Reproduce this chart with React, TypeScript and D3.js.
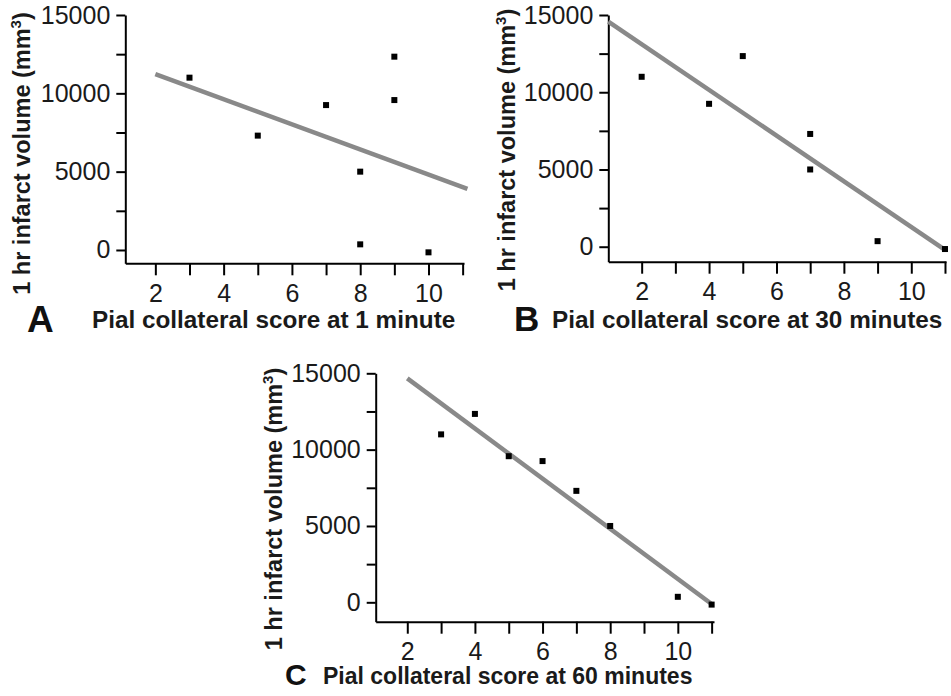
import * as d3 from "d3";
import React, { useEffect, useRef } from "react";

// scores (x) and 1 hr infarct volume (y)
const scoresA = [3, 5, 7, 8, 8, 9, 9, 10];
const volumesA = [11000, 7300, 9250, 5000, 360, 12340, 9570, -150];
const scoresB = [2, 4, 5, 7, 7, 9, 11];
const volumesB = [11000, 9250, 12340, 7300, 5000, 360, -150];
const scoresC = [3, 4, 5, 6, 7, 8, 10, 11];
const volumesC = [11000, 12340, 9570, 9250, 7300, 5000, 360, -150];

// regression line end points [score, volume]
const fitA = [[2, 11230], [11.14, 3900]];
const fitB = [[1.01, 14570], [11, -200]];
const fitC = [[2, 14670], [11, -110]];

const xTicks = [2, 3, 4, 5, 6, 7, 8, 9, 10, 11];
const xTickLabels = [2, 4, 6, 8, 10];
const yTicks = [0, 2500, 5000, 7500, 10000, 12500, 15000];
const yTickLabels = [0, 5000, 10000, 15000];

const panelLetters = ["A", "B", "C"];
const xTitles = [
  "Pial collateral score at 1 minute",
  "Pial collateral score at 30 minutes",
  "Pial collateral score at 60 minutes",
];
const yTitle = "1 hr infarct volume (mm";

const FONT = "'Liberation Sans', Arial, Helvetica, sans-serif";

const App = () => {
  const svgRef = useRef<SVGSVGElement>(null);

  useEffect(() => {
    const svg = d3.select(svgRef.current);
    svg.selectAll("*").remove();

    // layout of each panel (box + domains)
    const panels = [
      {
        xs: scoresA, ys: volumesA, fit: fitA,
        left: 125.3, right: 464, top: 15, bottom: 263.3,
        xDom: [1.12, 11.04], yDom: [-850, 15000],
        yLab: [30, 153.5], letter: [27, 332], letterSize: 37,
        title: [92, 328], titleSize: 24.3,
      },
      {
        xs: scoresB, ys: volumesB, fit: fitB,
        left: 608.3, right: 946, top: 15, bottom: 261.7,
        xDom: [1.01, 11.03], yDom: [-970, 15000],
        yLab: [515, 150], letter: [514, 331], letterSize: 35,
        title: [552, 328], titleSize: 24.3,
      },
      {
        xs: scoresC, ys: volumesC, fit: fitC,
        left: 375.7, right: 714, top: 373.3, bottom: 621.7,
        xDom: [1.066, 11.07], yDom: [-1270, 15000],
        yLab: [282, 509], letter: [285, 685], letterSize: 30,
        title: [323, 684], titleSize: 23,
      },
    ];

    panels.forEach((p, i) => {
      const x = d3.scaleLinear().domain(p.xDom).range([p.left, p.right]);
      const y = d3.scaleLinear().domain(p.yDom).range([p.bottom, p.top]);
      const g = svg.append("g");

      const yAxis = d3.axisLeft(y)
        .tickValues(yTicks)
        .tickFormat((d: any) => (yTickLabels.includes(d) ? String(d) : ""))
        .tickSize(9)
        .tickSizeOuter(0)
        .tickPadding(6);
      const xAxis = d3.axisBottom(x)
        .tickValues(xTicks)
        .tickFormat((d: any) => (xTickLabels.includes(d) ? String(d) : ""))
        .tickSize(12)
        .tickSizeOuter(0)
        .tickPadding(9);

      const ya = g.append("g").attr("transform", `translate(${p.left},0)`).call(yAxis);
      const xa = g.append("g").attr("transform", `translate(0,${p.bottom})`).call(xAxis);
      [ya, xa].forEach(a => {
        a.selectAll("path, line").attr("stroke", "#000").attr("stroke-width", 2);
        a.selectAll("text")
          .attr("font-family", FONT)
          .attr("font-size", 25)
          .attr("fill", "#1a1a1a");
      });

      // fit line
      g.append("path")
        .attr("d", d3.line()(p.fit.map(d => [x(d[0]), y(d[1])]) as any))
        .attr("stroke", "#898989")
        .attr("stroke-width", 4.5)
        .attr("fill", "none");

      // points
      g.selectAll("rect.pt")
        .data(p.xs.map((v, k) => [v, p.ys[k]]))
        .enter()
        .append("rect")
        .attr("class", "pt")
        .attr("x", d => x(d[0]) - 3)
        .attr("y", d => y(d[1]) - 3)
        .attr("width", 6)
        .attr("height", 6)
        .attr("fill", "#000");

      // y title
      const yt = g.append("text")
        .attr("transform", `translate(${p.yLab[0]},${p.yLab[1]}) rotate(-90)`)
        .attr("text-anchor", "middle")
        .attr("font-family", FONT)
        .attr("font-weight", "bold")
        .attr("font-size", 23.5)
        .attr("fill", "#1a1a1a");
      yt.append("tspan").text(yTitle);
      yt.append("tspan").attr("font-size", 15).attr("dy", -9).text("3");
      yt.append("tspan").attr("dy", 9).text(")");

      // x title and panel letter
      g.append("text")
        .attr("x", p.title[0])
        .attr("y", p.title[1])
        .attr("font-family", FONT)
        .attr("font-weight", "bold")
        .attr("font-size", p.titleSize)
        .attr("fill", "#1a1a1a")
        .text(xTitles[i]);
      g.append("text")
        .attr("x", p.letter[0])
        .attr("y", p.letter[1])
        .attr("font-family", FONT)
        .attr("font-weight", "bold")
        .attr("font-size", p.letterSize)
        .attr("fill", "#111")
        .text(panelLetters[i]);
    });
  }, []);

  return (
    <svg
      ref={svgRef}
      width={951}
      height={696}
      style={{ position: "absolute", left: 0, top: 0, background: "#fff" }}
    />
  );
};

export default App;
